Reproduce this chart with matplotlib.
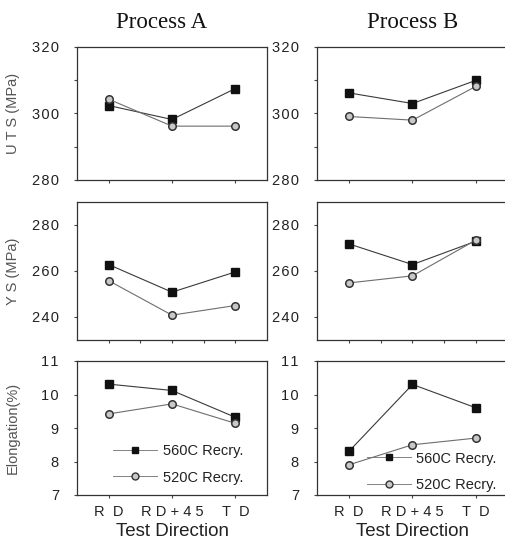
import matplotlib
matplotlib.use("Agg")
import matplotlib.pyplot as plt
from matplotlib.lines import Line2D
from matplotlib.ticker import FuncFormatter

directions = ["R  D", "R D + 4 5", "T  D"]
processes = ["Process A", "Process B"]
series = ["560C Recry.", "520C Recry."]

uts_A_560 = [302.4, 298.2, 307.5]
uts_A_520 = [304.3, 296.2, 296.2]
uts_B_560 = [306.2, 303.0, 310.0]
uts_B_520 = [299.1, 298.0, 308.2]

ys_A_560 = [262.8, 250.8, 259.6]
ys_A_520 = [255.8, 240.8, 245.0]
ys_B_560 = [271.8, 262.8, 273.0]
ys_B_520 = [254.8, 257.9, 273.5]

el_A_560 = [10.31, 10.12, 9.32]
el_A_520 = [9.42, 9.72, 9.14]
el_B_560 = [8.30, 10.30, 9.60]
el_B_520 = [7.90, 8.50, 8.70]

data = {
    (0, 0): (uts_A_560, uts_A_520), (0, 1): (uts_B_560, uts_B_520),
    (1, 0): (ys_A_560, ys_A_520), (1, 1): (ys_B_560, ys_B_520),
    (2, 0): (el_A_560, el_A_520), (2, 1): (el_B_560, el_B_520),
}
ylims = [(280, 320), (230, 290), (7, 11)]
yticks = [[280, 300, 320], [240, 260, 280], [7, 8, 9, 10, 11]]
ylabels = ["U T S (MPa)", "Y S (MPa)", "Elongation(%)"]

W, H = 506, 539
fig = plt.figure(figsize=(W / 100, H / 100), dpi=100)
plt.rcParams['font.family'] = ['Liberation Sans', 'DejaVu Sans']

col_left = [77, 317]
col_right = [267, 508]
row_top = [47, 202, 361]
row_bot = [180, 340, 495]

c560_line = "#3a3a3a"
c520_line = "#6e6e6e"

spaced = FuncFormatter(lambda v, p: "\u200a".join(str(int(round(v)))))

x = list(range(len(directions)))
for r in range(3):
    for c in range(2):
        axw = col_right[c] - col_left[c]
        ax = fig.add_axes([col_left[c] / W, 1 - row_bot[r] / H,
                           axw / W, (row_bot[r] - row_top[r]) / H])
        s560, s520 = data[(r, c)]
        ax.plot(x, s560, color=c560_line, lw=0.8, marker='s', ms=5.2,
                mfc='#111111', mec='#111111', zorder=3)
        ax.plot(x, s520, color=c520_line, lw=0.8, marker='o', ms=5.4,
                mfc='#c8c8c8', mec='#333333', mew=1.1, zorder=3)
        ax.set_xlim(-0.5, 2.5)
        ax.set_ylim(*ylims[r])
        ax.set_yticks(yticks[r])
        ax.yaxis.set_major_formatter(spaced)
        if r == 0:
            ax.set_yticks([290, 310], minor=True)
        ax.set_xticks(x)
        if r == 1:
            ax.set_xticks([0.5, 1.5], minor=True)
        if r == 2:
            ax.set_xticklabels(directions, fontsize=11, color="#222222")
            ax.set_xlabel("Test Direction", fontsize=13.5, color="#222222", labelpad=3)
        else:
            ax.set_xticklabels([])
        ax.tick_params(axis='both', which='both', direction='out', length=2,
                       width=0.8, color="#444444", labelsize=10.5,
                       labelcolor="#222222", pad=11)
        ax.tick_params(axis='x', pad=5)
        for sp in ax.spines.values():
            sp.set_color("#333333")
            sp.set_linewidth(0.9)
        if c == 1:
            ax.spines['right'].set_visible(False)
        if c == 0:
            ax.set_ylabel(ylabels[r], fontsize=10.5, color="#555555")
            ax.yaxis.set_label_coords((20 - col_left[0]) / axw, 0.5)
        if r == 0:
            tx = 0.447 if c == 0 else 0.5
            ax.set_title(processes[c], fontsize=16.5, family='Liberation Serif',
                         color="#111111", pad=14, x=tx)
        if r == 2:
            handles = [
                Line2D([], [], color=c520_line, lw=0.6, marker='s', ms=5,
                       mfc='#111111', mec='#111111'),
                Line2D([], [], color=c520_line, lw=0.6, marker='o', ms=5,
                       mfc='#c8c8c8', mec='#333333', mew=1.0),
            ]
            if c == 0:
                loc = dict(loc='lower left', bbox_to_anchor=(0.12, -0.02))
            else:
                loc = dict(loc='lower right', bbox_to_anchor=(1.01, -0.075))
            ax.legend(handles, series, frameon=False, fontsize=10.5,
                      handlelength=3.0, handletextpad=0.4, labelspacing=0.85,
                      labelcolor="#222222", **loc)

fig.savefig("out.png", dpi=100)
